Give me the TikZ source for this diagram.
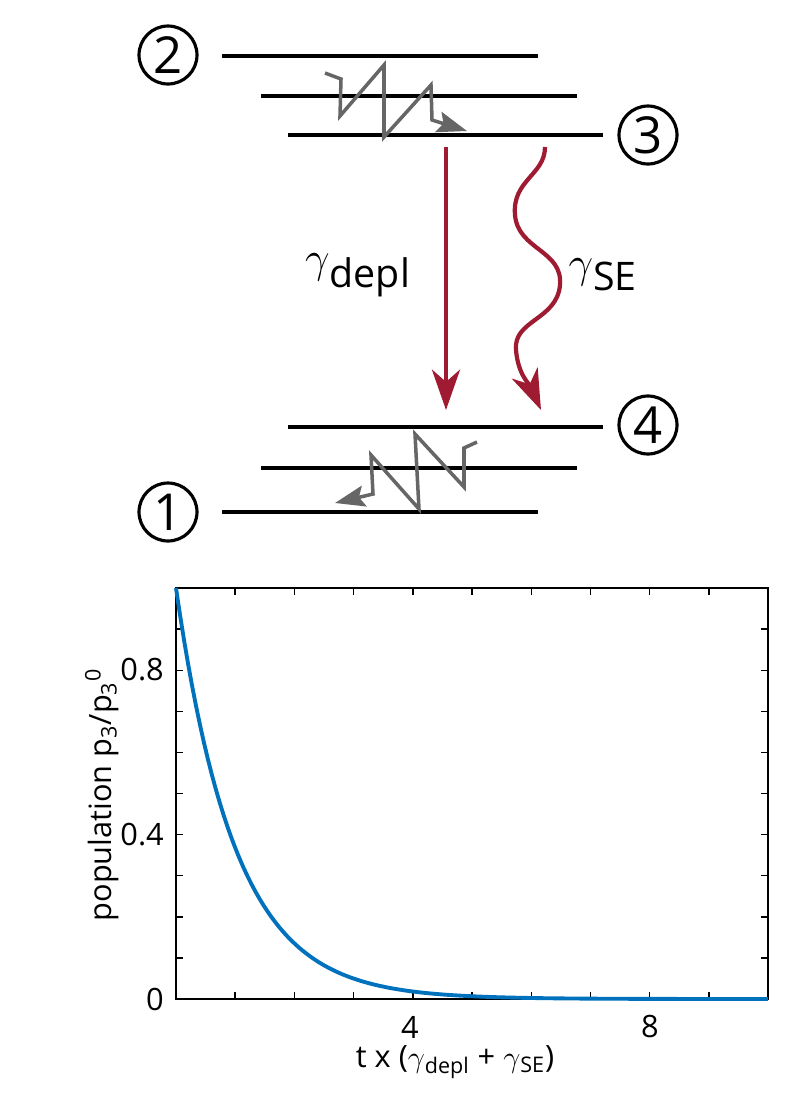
\documentclass[tikz,border=0pt]{standalone}
\usepackage{fontspec}
\setmainfont{Open Sans}
\usetikzlibrary{arrows.meta}
\definecolor{deplred}{HTML}{9E1B32}
\definecolor{curveblue}{HTML}{0072BD}
\tikzset{>=Stealth,
    level/.style={line width=2.4pt},
    levelnum/.style={circle,draw,line width=1.8pt,minimum size=33pt,inner sep=0pt,font=\fontsize{29}{29}\selectfont},
    relax/.style={draw=gray!80!black,line width=2pt,-{Stealth[length=17pt,width=12pt,inset=3pt]}},
    rate/.style={draw=deplred,line width=2.4pt,-{Stealth[length=23pt,width=16pt,inset=7pt]}},
    ratelbl/.style={font=\fontsize{32}{34}\selectfont},
    tick/.style={line width=0.8pt},
    ticklbl/.style={font=\fontsize{17.5}{18}\selectfont}
}
\begin{document}
\begin{tikzpicture}[x=0.02cm,y=-0.02cm]
    \useasboundingbox (0,0) rectangle (802,1100);
    % energy levels
    \draw[level] (222,56) -- (538,56);
    \draw[level] (261,96) -- (577,96);
    \draw[level] (288,135) -- (603,135);
    \draw[level] (288,427) -- (603,427);
    \draw[level] (261,468) -- (577,468);
    \draw[level] (222,512) -- (538,512);
    \node[levelnum] (n2) at (168,55) {2};
    \node[levelnum] (n3) at (648,135) {3};
    \node[levelnum] (n4) at (648,425) {4};
    \node[levelnum] (n1) at (168,512) {1};
    % vibrational relaxation
    \draw[relax] (325,73) -- (341,79) -- (340,116) -- (384,65) -- (384,137)
        -- (431,85) -- (432,120) -- (467,131);
    \draw[relax] (477,442) -- (464,448) -- (464,487) -- (415,434) -- (419,509)
        -- (371,455) -- (373,494) -- (335,503);
    % depletion and spontaneous emission
    \coordinate (d0) at (446,147);
    \coordinate (d1) at (446,410);
    \draw[rate] (d0) -- (d1);
    \coordinate (s0) at (545,147);
    \coordinate (s1) at (541,410);
    \draw[rate] (s0) .. controls (545,175) and (512,180) .. (515,215)
        .. controls (518,250) and (563,250) .. (560,285)
        .. controls (557,320) and (513,320) .. (516,350)
        .. controls (518,375) and (530,385) .. (s1);
    \node[ratelbl] (gd) at (358,275) {$\gamma$\textsubscript{depl}};
    \node[ratelbl] (gs) at (603,275) {$\gamma$\textsubscript{SE}};
    % population decay
    \draw[line width=0.8pt] (176,588) rectangle (768,999);
    \foreach \i in {1,...,9} {
        \draw[tick] ({176+59.2*\i},999) -- ++(0,-7);
        \draw[tick] ({176+59.2*\i},588) -- ++(0,7);
        \draw[tick] (176,{999-41.1*\i}) -- ++(7,0);
        \draw[tick] (768,{999-41.1*\i}) -- ++(-7,0);
    }
    \draw[curveblue,line width=2.2pt] plot[domain=0:10,samples=150] ({176+59.2*\x},{999-411*exp(-\x)});
    \node[ticklbl,anchor=east] (y0) at (170,999) {0};
    \node[ticklbl,anchor=east] (y4) at (170,835) {0.4};
    \node[ticklbl,anchor=east] (y8) at (170,670) {0.8};
    \node[ticklbl] (x4) at (410,1027) {4};
    \node[ticklbl] (x8) at (650,1027) {8};
    \node[ticklbl,rotate=90] (ylab) at (102,795) {population p\textsubscript{3}/p\textsubscript{3}\textsuperscript{0}};
    \node[ticklbl] (xlab) at (455,1062) {t x ($\gamma$\textsubscript{depl} + $\gamma$\textsubscript{SE})};
\end{tikzpicture}
\end{document}
